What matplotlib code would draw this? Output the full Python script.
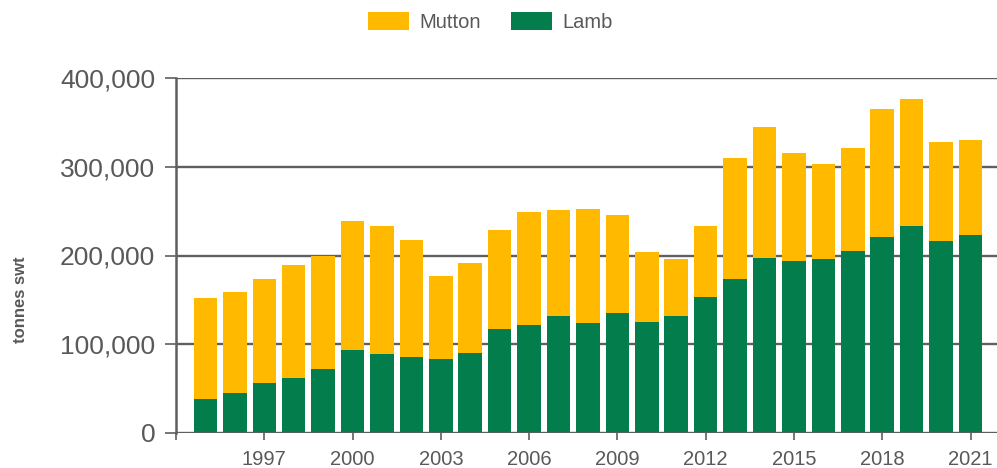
import matplotlib
matplotlib.use("Agg")
import matplotlib.pyplot as plt
import numpy as np
from matplotlib.ticker import FuncFormatter, FixedLocator

plt.rcParams['font.family'] = ['Liberation Sans', 'DejaVu Sans']

years = list(range(1995, 2022))
lamb = [38.0, 44.8, 56.5, 62.5, 71.9, 93.0, 88.5, 85.1, 83.6, 89.6,
        117.1, 122.0, 131.5, 123.5, 135.6, 124.7, 132.2, 153.7, 174.0, 197.4,
        193.6, 195.9, 205.6, 221.1, 233.5, 216.9, 222.6]
total = [152.2, 158.9, 174.0, 189.1, 199.2, 238.4, 233.5, 217.3, 177.0, 192.1,
         228.2, 249.3, 250.8, 252.0, 246.0, 203.8, 196.6, 232.8, 310.0, 344.6,
         315.3, 303.6, 320.9, 365.0, 375.9, 328.4, 330.3]
lamb = np.array(lamb) * 1000
mutton = np.array(total) * 1000 - lamb

yticks = [0, 100000, 200000, 300000, 400000]
xtick_labels = [1997, 2000, 2003, 2006, 2009, 2012, 2015, 2018, 2021]

c_mutton = '#FFBA00'
c_lamb = '#027D4B'
txt = '#595959'
grid = '#5f5f5f'

fig = plt.figure(figsize=(9.97, 4.68), dpi=100)
ax = fig.add_axes([176/997, 1-433/468, 1-176/997, (433-78)/468])

b1 = ax.bar(years, lamb, width=0.8, color=c_lamb, label='Lamb', zorder=3)
b2 = ax.bar(years, mutton, bottom=lamb, width=0.8, color=c_mutton, label='Mutton', zorder=3)

ax.set_xlim(1994.0, 2021.9)
ax.set_ylim(0, 400000)

for s in ['top', 'right', 'bottom']:
    ax.spines[s].set_visible(False)
ax.spines['left'].set_color(grid)
ax.spines['left'].set_linewidth(1.8)
ax.spines['left'].set_zorder(4)

ax.yaxis.set_major_locator(FixedLocator(yticks))
ax.yaxis.set_major_formatter(FuncFormatter(lambda v, p: f"{int(v):,}"))
ax.grid(axis='y', color=grid, linewidth=1.7, zorder=1)
ax.axhline(0, color=grid, linewidth=2.0, zorder=4)
ax.tick_params(axis='y', length=8, width=1.2, color=grid, labelsize=19, labelcolor=txt, pad=7)

ax.set_xticks(xtick_labels)
ax.set_xticklabels([str(x) for x in xtick_labels])
ax.set_xticks([1994.0], minor=True)
ax.tick_params(axis='x', which='both', length=5, width=1.2, color=grid, labelsize=14.5, labelcolor=txt, pad=7)

ax.set_ylabel('tonnes swt', fontsize=12, fontweight='bold', color=txt, labelpad=0)
ax.yaxis.set_label_coords(-(176-28)/821, 0.375)

fig.legend(handles=[b2, b1], labels=['Mutton', 'Lamb'], loc='center',
           bbox_to_anchor=(490/997, 1-22/468), ncol=2, frameon=False,
           fontsize=14.5, handlelength=2.05, handleheight=0.95,
           handletextpad=0.5, columnspacing=1.5, labelcolor=txt)

fig.savefig('out.png', dpi=100)
